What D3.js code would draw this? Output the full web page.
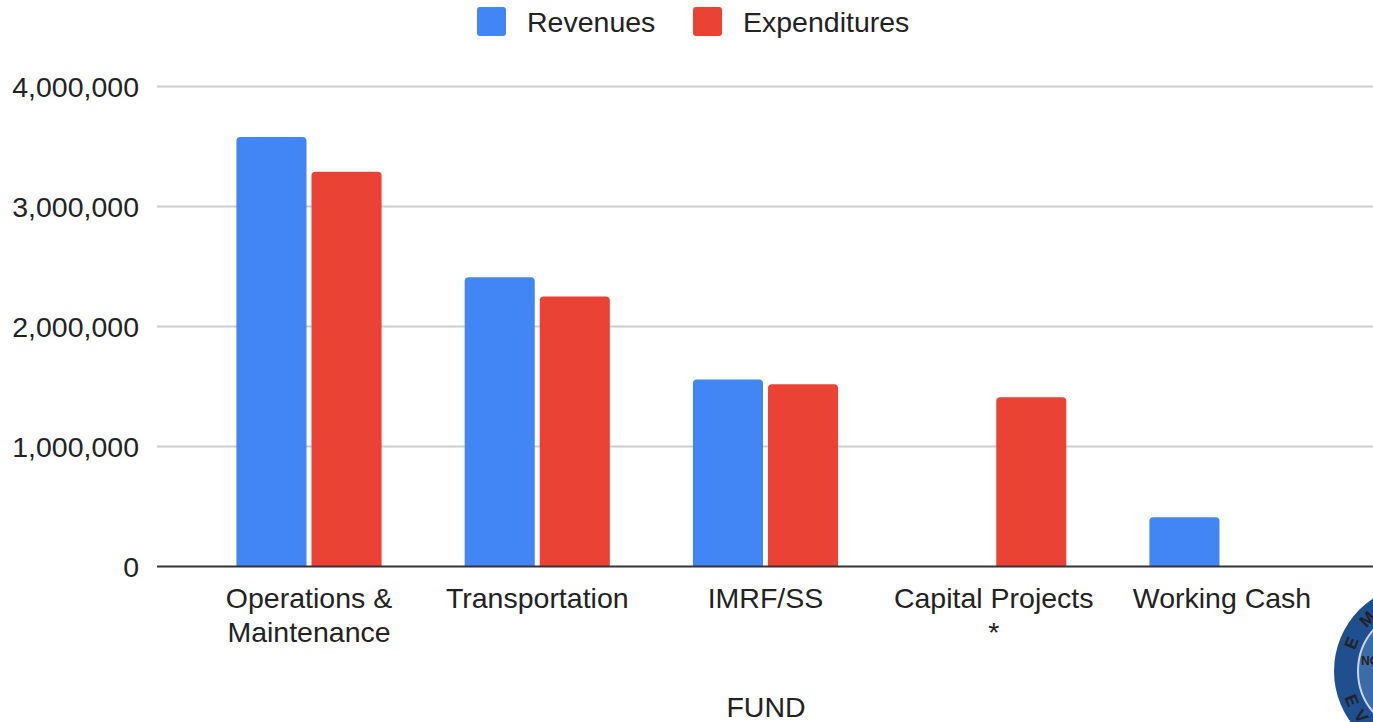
<!DOCTYPE html>
<html>
<head>
<meta charset="utf-8">
<script src="https://cdn.jsdelivr.net/npm/d3@7"></script>
<style>
  html, body { margin: 0; padding: 0; background: #fff; }
  svg { display: block; }
  text { font-family: "Liberation Sans", Arial, Helvetica, sans-serif; fill: #222; }
</style>
</head>
<body>
<svg id="chart" width="1373" height="722"></svg>
<script>
const categories = [["Operations &", "Maintenance"], ["Transportation"], ["IMRF/SS"], ["Capital Projects", "*"], ["Working Cash"]];
const seriesNames = ["Revenues", "Expenditures"];
const revenues = [3580000, 2410000, 1558000, 0, 410000];
const expenditures = [3290000, 2250000, 1519000, 1410000, 0];
const yTicks = [0, 1000000, 2000000, 3000000, 4000000];
const colors = ["#4285f4", "#ea4335"];
const xTitle = "FUND";

const svg = d3.select("#chart");
const W = 1373, H = 722;
const FS = "28.5px";
const plot = { left: 157, right: 1374, top: 86.5, bottom: 566.5 };

const catKeys = categories.map(c => c.join(" "));
const x = d3.scaleBand().domain(catKeys).range([plot.left, plot.right]).paddingInner(0).paddingOuter(0.166);
const groupW = x.bandwidth() * 0.636;
const xs = d3.scaleBand().domain(seriesNames).range([0, groupW]).paddingInner(5 / 75).paddingOuter(0);
const y = d3.scaleLinear().domain([0, 4000000]).range([plot.bottom, plot.top]);

// gridlines
svg.append("g").selectAll("line").data(yTicks.filter(t => t > 0)).join("line")
  .attr("x1", plot.left).attr("x2", W)
  .attr("y1", d => y(d)).attr("y2", d => y(d))
  .attr("stroke", "#cccccc").attr("stroke-width", 2);

// y axis labels
const yAxis = d3.axisLeft(y).tickValues(yTicks).tickFormat(d3.format(",")).tickSize(0).tickPadding(0);
const yg = svg.append("g").attr("transform", `translate(139,0)`).call(yAxis);
yg.select(".domain").remove();
yg.selectAll("text").style("font-size", FS).style("font-family", "'Liberation Sans', Arial, sans-serif").attr("fill", "#222").attr("dy", "0.36em");

// bars
function topRounded(x0, y0, w, h, r) {
  if (h <= 0) return "";
  r = Math.min(r, h, w / 2);
  return `M${x0},${y0 + h}V${y0 + r}Q${x0},${y0} ${x0 + r},${y0}H${x0 + w - r}Q${x0 + w},${y0} ${x0 + w},${y0 + r}V${y0 + h}Z`;
}
const data = [];
catKeys.forEach((k, i) => {
  data.push({ cat: k, s: seriesNames[0], v: revenues[i], c: colors[0] });
  data.push({ cat: k, s: seriesNames[1], v: expenditures[i], c: colors[1] });
});
svg.append("g").selectAll("path").data(data.filter(d => d.v > 0)).join("path")
  .attr("d", d => {
    const x0 = x(d.cat) + (x.bandwidth() - groupW) / 2 + xs(d.s);
    return topRounded(x0, y(d.v), xs.bandwidth(), plot.bottom - y(d.v), 4);
  })
  .attr("fill", d => d.c);

// baseline axis
svg.append("line").attr("x1", plot.left).attr("x2", W).attr("y1", plot.bottom).attr("y2", plot.bottom)
  .attr("stroke", "#333").attr("stroke-width", 2);

// category labels
const cl = svg.append("g");
categories.forEach((lines, i) => {
  const cx = x(catKeys[i]) + x.bandwidth() / 2;
  const t = cl.append("text").attr("text-anchor", "middle").style("font-size", FS);
  lines.forEach((ln, j) => {
    t.append("tspan").attr("x", cx).attr("y", 608 + j * 33.5).text(ln);
  });
});

// x title
svg.append("text").attr("x", 766).attr("y", 717).attr("text-anchor", "middle").style("font-size", FS).text(xTitle);

// legend
const legendX = [477, 693];
const lg = svg.append("g");
seriesNames.forEach((s, i) => {
  lg.append("rect").attr("x", legendX[i]).attr("y", 7).attr("width", 29).attr("height", 29).attr("rx", 3).attr("fill", colors[i]);
  lg.append("text").attr("x", legendX[i] + 50).attr("y", 32).style("font-size", FS).text(s);
});

// emblem (partially visible in corner)
const em = svg.append("g").attr("transform", "translate(1421,671)");
em.append("circle").attr("r", 87).attr("fill", "#1f4f8f");
em.append("circle").attr("r", 63).attr("fill", "#3d6ba8").attr("stroke", "#c9d6e8").attr("stroke-width", 2);
em.append("path").attr("d", "M-38,-45 C-25,-50 -20,-30 -26,-10 C-30,10 -22,30 -34,50 L-42,50 C-38,30 -46,10 -42,-10 C-40,-25 -46,-40 -38,-45Z").attr("fill", "#e7a53a");
em.append("text").attr("x", -60).attr("y", -6).style("font-size", "12px").style("font-weight", "bold").attr("fill", "#fff").text("NO");
const ringLetters = [["E", -158, 1], ["M", -136, 1], ["E", 157, -1], ["V", 143, -1]];
ringLetters.forEach(([ch, ang, side]) => {
  const a = ang * Math.PI / 180;
  const r = 75;
  const px = r * Math.cos(a), py = r * Math.sin(a);
  em.append("text").attr("x", px).attr("y", py)
    .attr("text-anchor", "middle").attr("dy", "0.35em")
    .attr("transform", `rotate(${side > 0 ? ang + 90 : ang - 90},${px},${py})`)
    .style("font-size", "17px").style("font-weight", "bold").attr("fill", "#fff").text(ch);
});
</script>
</body>
</html>
